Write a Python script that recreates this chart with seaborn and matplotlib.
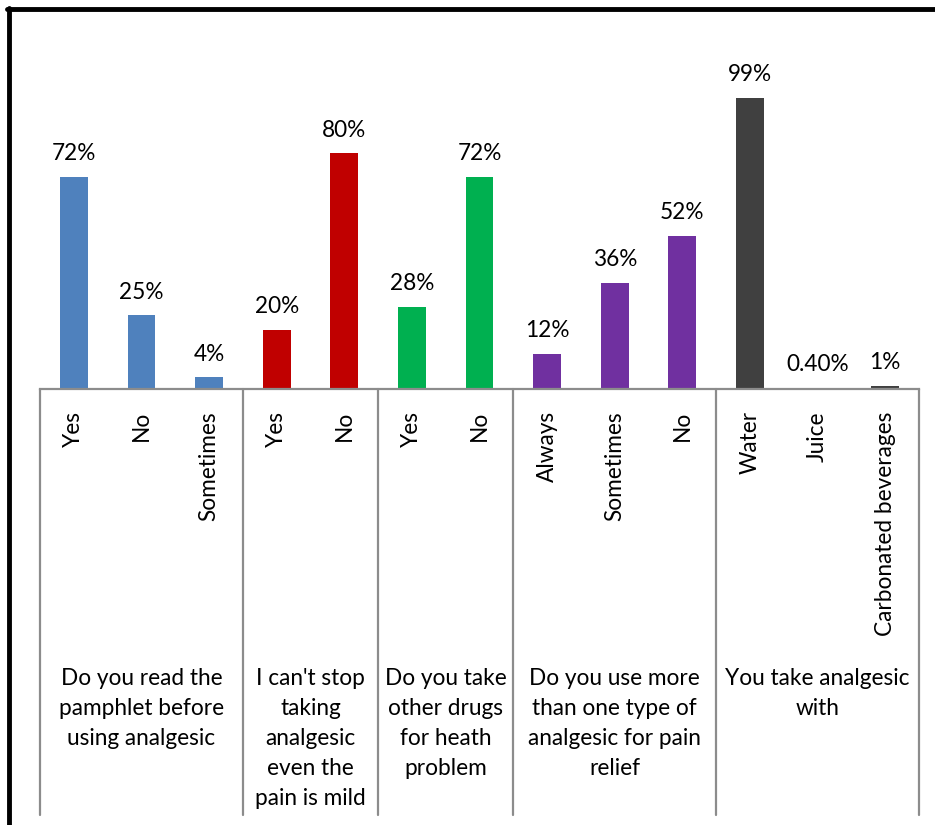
import matplotlib
matplotlib.use("Agg")
import matplotlib.pyplot as plt
from matplotlib.lines import Line2D
from matplotlib.transforms import blended_transform_factory
import seaborn as sns
import pandas as pd

# Survey answers, one bar per answer
answers = ["Yes", "No", "Sometimes",
           "Yes", "No",
           "Yes", "No",
           "Always", "Sometimes", "No",
           "Water", "Juice", "Carbonated beverages"]
percent = [72, 25, 4,
           20, 80,
           28, 72,
           12, 36, 52,
           99, 0.4, 1]
questions = ["Do you read the\npamphlet before\nusing analgesic",
             "I can't stop\ntaking\nanalgesic\neven the\npain is mild",
             "Do you take\nother drugs\nfor heath\nproblem",
             "Do you use more\nthan one type of\nanalgesic for pain\nrelief",
             "You take analgesic\nwith"]
group_sizes = [3, 2, 2, 3, 3]
group_colors = ["#4F81BD", "#C00000", "#00B050", "#7030A0", "#404040"]

sns.set_theme(style="white")
plt.rcParams["font.family"] = ["Lato", "DejaVu Sans"]

W, H = 935, 825
fig = plt.figure(figsize=(W / 100, H / 100), dpi=100)

# axes placement in pixels
x0, x1 = 40, 919
y_base, y_top = 389, 30
ax = fig.add_axes([x0 / W, (H - y_base) / H, (x1 - x0) / W, (y_base - y_top) / H])

keys = [f"{i:02d}" for i in range(len(answers))]
colors = []
for c, n in zip(group_colors, group_sizes):
    colors += [c] * n
df = pd.DataFrame({"key": keys, "value": percent})

sns.barplot(data=df, x="key", y="value", hue="key", palette=colors,
            width=0.41, legend=False, ax=ax, saturation=1, linewidth=0)

px_per_unit = 2.944
ax.set_ylim(0, (y_base - y_top) / px_per_unit)
ax.set_xlim(-0.5, len(answers) - 0.5)

fs = 16.3
for i, v in enumerate(percent):
    lab = f"{v:.2f}%" if v < 1 else f"{v:.0f}%"
    ax.annotate(lab, (i, v), xytext=(0, 12), textcoords="offset points",
                ha="center", va="baseline", fontsize=fs, color="black")

ax.set_xticks(range(len(answers)))
ax.set_xticklabels(answers, rotation=90, fontsize=fs, color="black")
ax.tick_params(axis="x", length=0, pad=16)
ax.set_yticks([])
ax.set_xlabel("")
ax.set_ylabel("")
for s in ["left", "right", "top"]:
    ax.spines[s].set_visible(False)
ax.spines["bottom"].set_color("#8C8C8C")
ax.spines["bottom"].set_linewidth(1.6)

# group dividers and question labels below the axis
trans = blended_transform_factory(ax.transData, fig.transFigure)
edges = [-0.5]
for n in group_sizes:
    edges.append(edges[-1] + n)
for e in edges:
    ax.add_line(Line2D([e, e], [(H - y_base) / H, (H - 815) / H], transform=trans,
                       color="#8C8C8C", lw=1.6, clip_on=False))
for q, a, b in zip(questions, edges[:-1], edges[1:]):
    ax.text((a + b) / 2, (H - 668) / H, q, transform=trans, ha="center", va="top",
            fontsize=fs, linespacing=1.53, color="black")

# outer frame
fig.add_artist(Line2D([9 / W, 9 / W], [0, (H - 8) / H], color="black", lw=3.5))
fig.add_artist(Line2D([7 / W, 1], [(H - 8.5) / H, (H - 8.5) / H], color="black", lw=3.5))

fig.savefig("out.png", dpi=100)
